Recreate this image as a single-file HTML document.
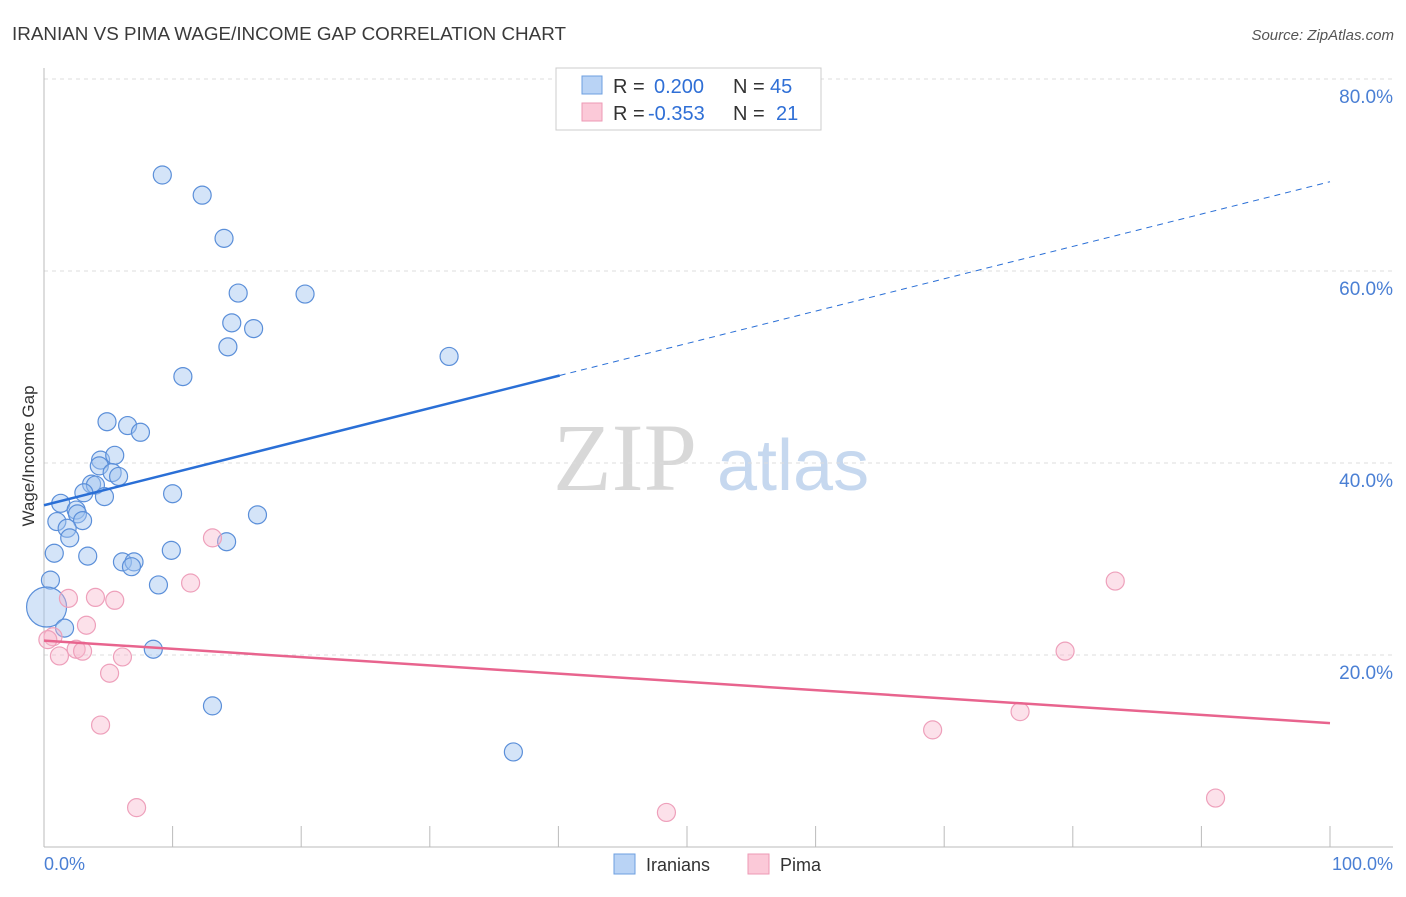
<!DOCTYPE html>
<html><head><meta charset="utf-8"><style>
body{margin:0;background:#fff;font-family:"Liberation Sans",sans-serif;}
</style></head><body>
<svg width="1406" height="892" xmlns="http://www.w3.org/2000/svg" font-family="Liberation Sans, sans-serif">
<text x="12" y="40" font-size="18" fill="#3a3a3a" textLength="554" lengthAdjust="spacingAndGlyphs">IRANIAN VS PIMA WAGE/INCOME GAP CORRELATION CHART</text>
<text x="1394" y="40" font-size="15" fill="#555" text-anchor="end" font-style="italic">Source: ZipAtlas.com</text>
<text x="553" y="490" font-size="96" fill="#d8d8d8" font-family="Liberation Serif, serif">ZIP</text>
<text x="717" y="490" font-size="72" fill="#c6d8ef">atlas</text>
<text transform="translate(34,456) rotate(-90)" font-size="17" fill="#333" text-anchor="middle">Wage/Income Gap</text>
<g id="grid"></g><g id="axes"></g><g id="marks"></g>
<g font-size="20">
<rect x="556" y="68" width="265" height="62" fill="#fff" stroke="#ccc"/>
<rect x="582" y="76" width="20" height="18" fill="#b9d3f5" stroke="#6d9fe0"/>
<text x="613" y="93" fill="#333">R =</text><text x="654" y="93" fill="#2f6fd6">0.200</text>
<text x="733" y="93" fill="#333">N =</text><text x="770" y="93" fill="#2f6fd6">45</text>
<rect x="582" y="103" width="20" height="18" fill="#fbc9d8" stroke="#ee99b5"/>
<text x="613" y="120" fill="#333">R =</text><text x="648" y="120" fill="#2f6fd6">-0.353</text>
<text x="733" y="120" fill="#333">N =</text><text x="776" y="120" fill="#2f6fd6">21</text>
</g>
<g>
<rect x="614" y="854" width="21" height="20" fill="#b9d3f5" stroke="#6d9fe0"/>
<text x="646" y="871" font-size="18" fill="#333">Iranians</text>
<rect x="748" y="854" width="21" height="20" fill="#fbc9d8" stroke="#ee99b5"/>
<text x="780" y="871" font-size="18" fill="#333">Pima</text>
</g>
<text x="44" y="870" font-size="18" fill="#4a7fd4">0.0%</text>
<text x="1393" y="870" font-size="18" fill="#4a7fd4" text-anchor="end">100.0%</text>
</svg>
<script>
const blueX=[9.2,12.3,14.0,15.1,20.3,14.6,16.3,14.3,31.5,10.8,4.9,6.5,7.5,4.4,5.5,4.3,5.3,5.8,3.7,4.0,3.1,4.7,10.0,1.3,2.5,2.6,1.0,3.0,1.8,2.0,16.6,14.2,9.9,0.8,3.4,6.1,7.0,6.8,8.9,0.5,0.2,1.6,8.5,13.1,36.5];
const blueY=[70.0,67.9,63.4,57.7,57.6,54.6,54.0,52.1,51.1,49.0,44.3,43.9,43.2,40.3,40.8,39.7,39.0,38.6,37.8,37.7,36.9,36.5,36.8,35.8,35.1,34.7,33.9,34.0,33.2,32.2,34.6,31.8,30.9,30.6,30.3,29.7,29.7,29.2,27.3,27.8,25.0,22.8,20.6,14.7,9.9];
const pinkX=[13.1,11.4,83.3,1.9,4.0,5.5,3.3,0.7,0.3,1.2,2.5,3.0,6.1,5.1,79.4,4.4,75.9,69.1,7.2,48.4,91.1];
const pinkY=[32.2,27.5,27.7,25.9,26.0,25.7,23.1,21.9,21.6,19.9,20.6,20.4,19.8,18.1,20.4,12.7,14.1,12.2,4.1,3.6,5.1];
const blueTrend=[35.6,69.3], blueSolidEnd=40.1;
const pinkTrend=[21.5,12.9];
const yTicks=[20,40,60,80];
const yTickLabels=["20.0%","40.0%","60.0%","80.0%"];
const NS="http://www.w3.org/2000/svg";
const sx=v=>44+v*12.86, sy=v=>847-v*9.6;
function mk(t,a,p){const e=document.createElementNS(NS,t);for(const k in a)e.setAttribute(k,a[k]);p.appendChild(e);return e;}
const grid=document.getElementById('grid'),axes=document.getElementById('axes'),marks=document.getElementById('marks');
yTicks.forEach((t,i)=>{
 const l=mk('line',{x1:44,x2:1393,y1:sy(t),y2:sy(t),stroke:'#ddd','stroke-dasharray':'4,4'},grid);
 
 
 const tx=mk('text',{x:1393,y:sy(t)+24,'font-size':19,fill:'#4a7fd4','text-anchor':'end'},axes);
 tx.textContent=yTickLabels[i];
 
 
});
let a=mk('line',{x1:44,x2:44,y1:68,y2:847,stroke:'#bbb'},axes);


a=mk('line',{x1:44,x2:1393,y1:847,y2:847,stroke:'#bbb'},axes);


for(let i=0;i<=10;i++){const t=mk('line',{x1:sx(i*10),x2:sx(i*10),y1:826,y2:847,stroke:'#bbb'},axes);
 
 }
function dot(x,y,r,fill,st,name){const c=mk('circle',{cx:sx(x),cy:sy(y),r:r,fill:fill,stroke:st,'stroke-width':1.2},marks);
 
 }
blueX.forEach((x,i)=>dot(x,blueY[i],(x<0.5&&blueY[i]<26)?20:9,'rgba(160,196,240,0.45)','#5b8fd9','iranian-point'));
pinkX.forEach((x,i)=>dot(x,pinkY[i],9,'rgba(248,180,202,0.4)','#eea0bb','pima-point'));
const by=x=>blueTrend[0]+(blueTrend[1]-blueTrend[0])*x/100;
let l=mk('line',{x1:sx(0),y1:sy(by(0)),x2:sx(blueSolidEnd),y2:sy(by(blueSolidEnd)),stroke:'#2a6fd6','stroke-width':2.5},marks);


l=mk('line',{x1:sx(blueSolidEnd),y1:sy(by(blueSolidEnd)),x2:sx(100),y2:sy(by(100)),stroke:'#2a6fd6','stroke-width':1,'stroke-dasharray':'6,5'},marks);


l=mk('line',{x1:sx(0),y1:sy(pinkTrend[0]),x2:sx(100),y2:sy(pinkTrend[1]),stroke:'#e8648e','stroke-width':2.5},marks);


</script>
</body></html>
